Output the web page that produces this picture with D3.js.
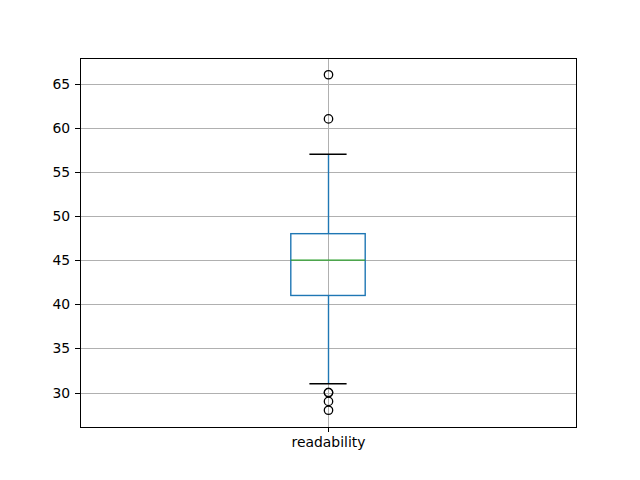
<!DOCTYPE html>
<html><head><meta charset="utf-8">
<script src="https://cdn.jsdelivr.net/npm/d3@7"></script>
<style>body{margin:0;background:#fff}svg{display:block}text{font-family:"DejaVu Sans",sans-serif}</style>
</head><body><svg id="c" width="640" height="480"></svg>
<script>
const categories = ["readability"];
const q1 = [41], median = [45], q3 = [48], whiskerLow = [31], whiskerHigh = [57];
const outliers = [[66, 61, 30, 30, 29, 28]];
const yTicks = [30, 35, 40, 45, 50, 55, 60, 65];

const svg = d3.select("#c");
const L = 80, R = 576, T = 58, B = 427;
const y = d3.scaleLinear().domain([26.1, 67.9]).range([B, T]);
const x = d3.scaleLinear().domain([0.5, 1.5]).range([L, R]);
const cx = v => Math.floor(x(v)) + 0.5;

// grid
svg.append("g").selectAll("line").data(yTicks).join("line")
  .attr("x1", L).attr("x2", R).attr("y1", d => Math.round(y(d)) + 0.5).attr("y2", d => Math.round(y(d)) + 0.5)
  .attr("stroke", "#b0b0b0").attr("stroke-width", 1);
svg.append("g").selectAll("line").data(categories).join("line")
  .attr("x1", (d,i) => cx(i+1)).attr("x2", (d,i) => cx(i+1)).attr("y1", T).attr("y2", B)
  .attr("stroke", "#b0b0b0").attr("stroke-width", 1);

const bw = 0.15;
categories.forEach((c, i) => {
  const p = i + 1;
  const g = svg.append("g");
  g.append("line").attr("x1", cx(p)).attr("x2", cx(p)).attr("y1", y(q1[i])).attr("y2", y(whiskerLow[i]))
    .attr("stroke", "#1f77b4").attr("stroke-width", 1.4);
  g.append("line").attr("x1", cx(p)).attr("x2", cx(p)).attr("y1", y(q3[i])).attr("y2", y(whiskerHigh[i]))
    .attr("stroke", "#1f77b4").attr("stroke-width", 1.4);
  [whiskerLow[i], whiskerHigh[i]].forEach(v => {
    g.append("line").attr("x1", x(p - bw/4)).attr("x2", x(p + bw/4)).attr("y1", y(v)).attr("y2", y(v))
      .attr("stroke", "#000").attr("stroke-width", 1.4);
  });
  g.append("rect").attr("x", x(p - bw/2)).attr("width", x(p + bw/2) - x(p - bw/2))
    .attr("y", y(q3[i])).attr("height", y(q1[i]) - y(q3[i]))
    .attr("fill", "none").attr("stroke", "#1f77b4").attr("stroke-width", 1.4);
  g.append("line").attr("x1", x(p - bw/2)).attr("x2", x(p + bw/2)).attr("y1", y(median[i])).attr("y2", y(median[i]))
    .attr("stroke", "#2ca02c").attr("stroke-width", 1.4);
  g.selectAll("circle").data(outliers[i]).join("circle")
    .attr("cx", cx(p)).attr("cy", d => y(d)).attr("r", 4.2)
    .attr("fill", "none").attr("stroke", "#000").attr("stroke-width", 1.3);
});

// axes
const yAxis = d3.axisLeft(y).tickValues(yTicks).tickSize(4.9).tickPadding(4.9);
const ya = svg.append("g").attr("transform", `translate(${L},0)`).call(yAxis);
const xAxis = d3.axisBottom(x).tickValues(categories.map((d,i)=>i+1)).tickFormat((d,i)=>categories[i]).tickSize(4.9).tickPadding(4.9);
const xa = svg.append("g").attr("transform", `translate(0,${B})`).call(xAxis);
[ya, xa].forEach(a => {
  a.select(".domain").remove();
  a.selectAll("text").attr("font-size", 13.9).attr("fill", "#000").attr("font-family", "DejaVu Sans");
  a.selectAll("line").attr("stroke", "#000").attr("stroke-width", 1).attr("shape-rendering", "crispEdges");
});
svg.append("rect").attr("x", L + 0.5).attr("y", T + 0.5).attr("width", R - L).attr("height", B - T)
  .attr("fill", "none").attr("stroke", "#000").attr("stroke-width", 1);
</script></body></html>
